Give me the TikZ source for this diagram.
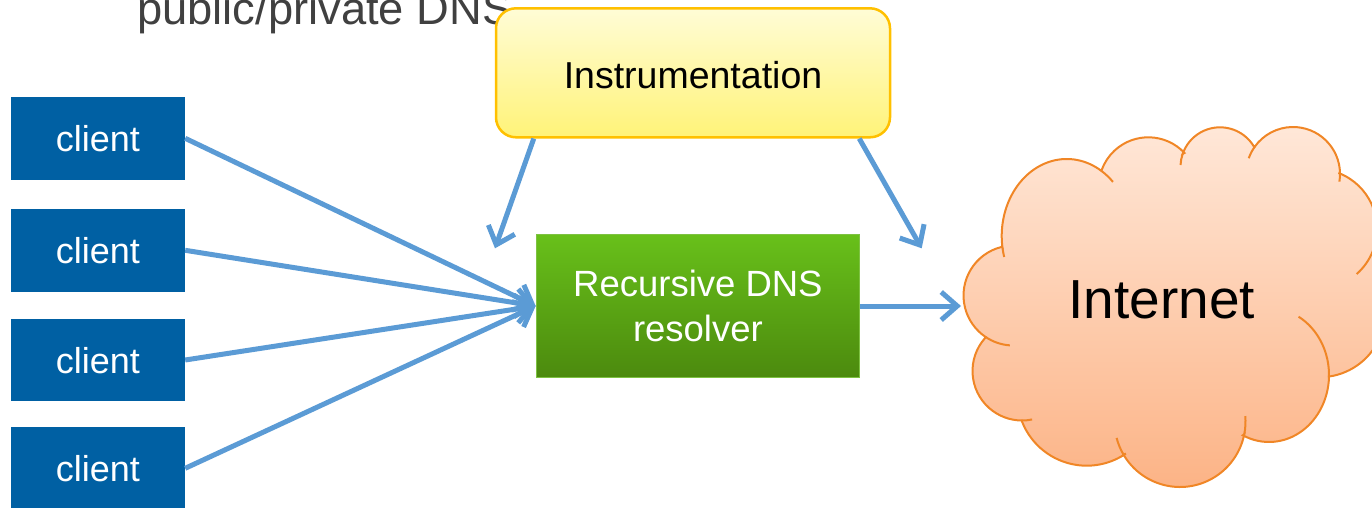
\documentclass[tikz,border=0pt]{standalone}
\usepackage{fontspec}
\setmainfont{Liberation Sans}
\usetikzlibrary{arrows.meta}

\definecolor{clientblue}{RGB}{0,96,163}
\definecolor{flowblue}{RGB}{91,155,213}
\definecolor{titlegray}{RGB}{64,64,64}
\definecolor{instrtop}{RGB}{255,252,214}
\definecolor{instrbottom}{RGB}{255,243,120}
\definecolor{instrborder}{RGB}{255,192,0}
\definecolor{restop}{RGB}{104,192,26}
\definecolor{resbottom}{RGB}{76,138,14}
\definecolor{resborder}{RGB}{126,194,66}
\definecolor{cloudtop}{RGB}{255,232,217}
\definecolor{cloudbottom}{RGB}{252,178,132}
\definecolor{cloudborder}{RGB}{240,134,38}

\begin{document}
\begin{tikzpicture}[x=1pt, y=1pt,
  clientbox/.style={fill=clientblue, minimum width=174pt, minimum height=82.5pt,
    inner sep=0pt, text=white, font=\fontsize{36}{43}\selectfont,
    text height=26.8pt, text depth=0pt},
  instrbox/.style={draw=instrborder, line width=2.5pt, rounded corners=20pt,
    top color=instrtop, bottom color=instrbottom,
    minimum width=394pt, minimum height=129pt, inner sep=0pt,
    font=\fontsize{37.5}{45}\selectfont, text height=31pt, text depth=0pt},
  resolverbox/.style={draw=resborder, line width=1.5pt,
    top color=restop, bottom color=resbottom,
    minimum width=323pt, minimum height=143pt, inner sep=0pt,
    text=white, align=center, font=\fontsize{36.5}{45}\selectfont},
  cloudline/.style={draw=cloudborder, line width=2pt},
  flow/.style={draw=flowblue, line width=5pt,
    -{Straight Barb[length=16pt,width=28pt]}}
]
\path[use as bounding box] (0,0) rectangle (1372,507);
\clip (0,0) rectangle (1372,507);

% heading line running off the top edge
\node[anchor=base west, inner sep=0pt, text=titlegray,
      font=\fontsize{45.3}{54}\selectfont] (heading) at (137,482) {public/private DNS};

% boxes
\node[instrbox] (instr) at (693,434.2) {Instrumentation};
\node[resolverbox] (resolver) at (697.9,201) {Recursive DNS\\resolver};

\node[clientbox] (c1) at (98,368.7) {client};
\node[clientbox] (c2) at (98,256.7) {client};
\node[clientbox] (c3) at (98,147) {client};
\node[clientbox] (c4) at (98,38.7) {client};

% the Internet cloud, traced bump by bump (counter-clockwise)
\path[cloudline, top color=cloudtop, bottom color=cloudbottom]
  ([shift={(57.9:65 and 77)}]1066.7,271) arc[start angle=57.9, end angle=188.6, x radius=65, y radius=77]
  -- ([shift={(103.9:50)}]1013.5,211.5) arc[start angle=103.9, end angle=236.3, radius=50]
  -- ([shift={(138.5:49.5)}]1022,136) arc[start angle=138.5, end angle=269.7, radius=49.5]
  -- ([shift={(201.4:69.5)}]1086.7,110.8) arc[start angle=201.4, end angle=304.3, radius=69.5]
  -- ([shift={(210.4:65.5)}]1180,85.5) arc[start angle=210.4, end angle=348.8, radius=65.5]
  -- ([shift={(244.1:60 and 67)}]1269,132) arc[start angle=244.1, end angle=358, x radius=60, y radius=67]
  -- ([shift={(278.1:65.5)}]1319.7,195.3) arc[start angle=278.1, end angle=385, radius=65.5]
  -- ([shift={(-20:60)}]1317,278) arc[start angle=-20, end angle=69.1, radius=60]
  -- ([shift={(0.9:47)}]1293,333) arc[start angle=0.9, end angle=144.3, radius=47]
  -- ([shift={(29.9:39.5)}]1220,340.2) arc[start angle=29.9, end angle=160.8, radius=39.5]
  -- ([shift={(43.2:49.6)}]1148.3,320.1) arc[start angle=43.2, end angle=160.1, radius=49.6]
  -- cycle;

% inner ends of the puffs
\draw[cloudline] ([shift={(44.6:65 and 77)}]1066.7,271) arc[start angle=44.6, end angle=57.9, x radius=65, y radius=77];
\draw[cloudline] ([shift={(188.6:65 and 77)}]1066.7,271) arc[start angle=188.6, end angle=195.8, x radius=65, y radius=77];
\draw[cloudline] ([shift={(236.3:50)}]1013.5,211.5) arc[start angle=236.3, end angle=265.8, radius=50];
\draw[cloudline] ([shift={(269.7:49.5)}]1022,136) arc[start angle=269.7, end angle=281.8, radius=49.5];
\draw[cloudline] ([shift={(194.5:65.5)}]1180,85.5) arc[start angle=194.5, end angle=210.4, radius=65.5];
\draw[cloudline] ([shift={(348.8:65.5)}]1180,85.5) arc[start angle=348.8, end angle=364.8, radius=65.5];
\draw[cloudline] ([shift={(358:60 and 67)}]1269,132) arc[start angle=358, end angle=420.5, x radius=60, y radius=67];
\draw[cloudline] ([shift={(-48.7:60)}]1317,278) arc[start angle=-48.7, end angle=-20, radius=60];
\draw[cloudline] ([shift={(-9.4:47)}]1293,333) arc[start angle=-9.4, end angle=0.9, radius=47];
\draw[cloudline] ([shift={(144.3:47)}]1293,333) arc[start angle=144.3, end angle=160.4, radius=47];
\draw[cloudline] ([shift={(160.8:39.5)}]1220,340.2) arc[start angle=160.8, end angle=177.4, radius=39.5];

\node[anchor=base, inner sep=0pt, font=\fontsize{55}{66}\selectfont] (internet) at (1161.7,188.7) {Internet};

% free arrow ends
\coordinate (tapL) at (495,258.7);
\coordinate (tapR) at (921.7,258.7);
\coordinate (cloudwest) at (961,201);

% connectors
\draw[flow] (c1.east) -- (resolver.west);
\draw[flow] (c2.east) -- (resolver.west);
\draw[flow] (c3.east) -- (resolver.west);
\draw[flow] (c4.east) -- (resolver.west);
\draw[flow] ([xshift=39pt]instr.south west) -- (tapL);
\draw[flow] ([xshift=-32pt]instr.south east) -- (tapR);
\draw[flow] (resolver.east) -- (cloudwest);
\end{tikzpicture}
\end{document}
